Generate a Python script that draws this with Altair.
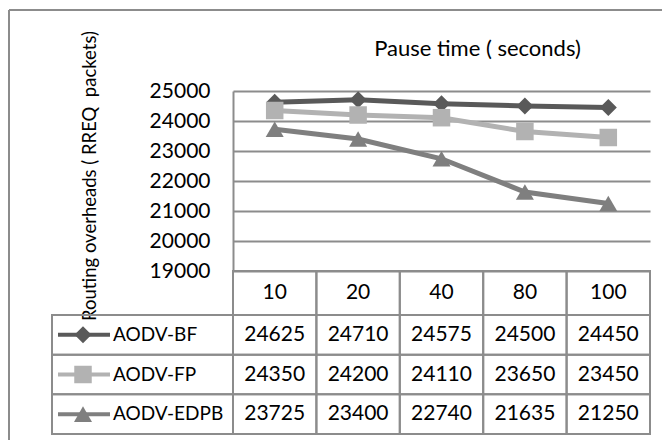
import altair as alt
import pandas as pd

# ---- data ----
pause = [10, 20, 40, 80, 100]
series_names = ["AODV-BF", "AODV-FP", "AODV-EDPB"]
bf_values = [24625, 24710, 24575, 24500, 24450]
fp_values = [24350, 24200, 24110, 23650, 23450]
edpb_values = [23725, 23400, 22740, 21635, 21250]
y_ticks = [19000, 20000, 21000, 22000, 23000, 24000, 25000]
x_title = "Pause time ( seconds)"
y_title = "Routing overheads ( RREQ\u00a0 packets)"

# ---- styles ----
colors = ["#595959", "#b2b2b2", "#7f7f7f"]
shapes = ["diamond", "square", "triangle-up"]
marker_sizes = [289, 324, 330]
legend_marker_sizes = [120, 150, 160]
FONT = "Lato"
GRID = "#8c8c8c"
PW, PH = 417, 180
HDR_H, ROWS_H = 44, 119

rows = []
for name, vals in zip(series_names, [bf_values, fp_values, edpb_values]):
    for p, v in zip(pause, vals):
        rows.append({"series": name, "pause": p, "value": v})
df = pd.DataFrame(rows)
series_df = pd.DataFrame({"series": series_names})
pause_df = pd.DataFrame({"pause": pause})
dummy = pd.DataFrame({"a": [0]})

x_scale = alt.Scale(type="band", domain=pause, paddingInner=0, paddingOuter=0)
color_scale = alt.Scale(domain=series_names, range=colors)
shape_scale = alt.Scale(domain=series_names, range=shapes)

x_top = alt.X(
    "pause:O", scale=x_scale,
    axis=alt.Axis(orient="top", labels=False, ticks=False, domain=False, grid=False,
                  title=x_title, titleFont=FONT, titleFontSize=22, titleFontWeight="normal",
                  titleColor="black", titleX=244, titleY=-36, titleBaseline="alphabetic",
                  titleAlign="center"),
)
y_top = alt.Y(
    "value:Q", scale=alt.Scale(domain=[19000, 25000], nice=False, zero=False),
    axis=alt.Axis(values=y_ticks, tickCount=len(y_ticks), format="d", ticks=False,
                  domainColor=GRID, domainWidth=2,
                  grid=True, gridColor=GRID, gridWidth=2, labelFont=FONT, labelFontSize=21,
                  labelColor="black", labelPadding=23, labelOverlap=False, title=y_title,
                  titleFont=FONT, titleFontSize=18.5, titleFontWeight="normal", titleColor="black",
                  titleX=-144, titleY=84.5, titleAngle=270, titleBaseline="middle",
                  titleAlign="center"),
)

lines = alt.Chart(df).mark_line(strokeWidth=5).encode(
    x=x_top, y=y_top,
    color=alt.Color("series:N", scale=color_scale, legend=None),
)
points = alt.Chart(df).mark_point(filled=True, opacity=1).encode(
    x=alt.X("pause:O", scale=x_scale),
    y=alt.Y("value:Q"),
    color=alt.Color("series:N", scale=color_scale, legend=None),
    shape=alt.Shape("series:N", scale=shape_scale, legend=None),
    size=alt.Size("series:N", scale=alt.Scale(domain=series_names, range=marker_sizes), legend=None),
)
frame_left = alt.Chart(dummy).mark_rule(color=GRID, strokeWidth=2).encode(
    x=alt.value(-224), y=alt.value(-81), y2=alt.value(349)
)
frame_top = alt.Chart(dummy).mark_rule(color=GRID, strokeWidth=2).encode(
    x=alt.value(-224), x2=alt.value(429), y=alt.value(-81)
)
top = alt.layer(frame_left, frame_top, lines, points).properties(width=PW, height=PH)

# ---- header row (category labels) ----
x_tab = alt.X("pause:O", scale=x_scale, axis=None)
hdr_cells = alt.Chart(pause_df).mark_rect(fillOpacity=0, stroke=GRID, strokeWidth=2).encode(x=x_tab)
hdr_text = alt.Chart(pause_df).mark_text(font=FONT, fontSize=21, color="black", baseline="middle").encode(
    x=x_tab, y=alt.value(HDR_H / 2), text="pause:O"
)
header = alt.layer(hdr_cells, hdr_text).properties(width=PW, height=HDR_H)

# ---- data table rows ----
y_tab = alt.Y("series:N", scale=alt.Scale(type="band", domain=series_names, paddingInner=0, paddingOuter=0),
              axis=None, bandPosition=0.5)
y_rect = alt.Y("series:N", scale=alt.Scale(type="band", domain=series_names, paddingInner=0, paddingOuter=0),
               axis=None)
cells = alt.Chart(df).mark_rect(fillOpacity=0, stroke=GRID, strokeWidth=2).encode(x=x_tab, y=y_rect)
left_cells = alt.Chart(series_df).mark_rect(fillOpacity=0, stroke=GRID, strokeWidth=2).encode(
    x=alt.value(-181), x2=alt.value(0), y=y_rect
)
vals = alt.Chart(df).mark_text(font=FONT, fontSize=21, color="black", baseline="middle").encode(
    x=x_tab, y=y_tab, text=alt.Text("value:Q", format="d")
)
leg_lines = alt.Chart(series_df).mark_rule(strokeWidth=4).encode(
    x=alt.value(-175), x2=alt.value(-123), y=y_tab,
    color=alt.Color("series:N", scale=color_scale, legend=None),
)
leg_points = alt.Chart(series_df).mark_point(filled=True, opacity=1).encode(
    x=alt.value(-150), y=y_tab,
    color=alt.Color("series:N", scale=color_scale, legend=None),
    shape=alt.Shape("series:N", scale=shape_scale, legend=None),
    size=alt.Size("series:N", scale=alt.Scale(domain=series_names, range=legend_marker_sizes), legend=None),
)
leg_text = alt.Chart(series_df).mark_text(font=FONT, fontSize=19, color="black", align="left",
                                          baseline="middle").encode(
    x=alt.value(-120), y=y_tab, text="series:N"
)
table = alt.layer(cells, left_cells, vals, leg_lines, leg_points, leg_text).properties(width=PW, height=ROWS_H)

chart = alt.vconcat(top, header, table, spacing=0, bounds="flush").properties(
    padding={"left": 8, "top": 9, "right": 0, "bottom": 0},
    background="white",
).configure_view(strokeWidth=0)

chart.save("out.html", embed_options={"renderer": "svg", "actions": False})
